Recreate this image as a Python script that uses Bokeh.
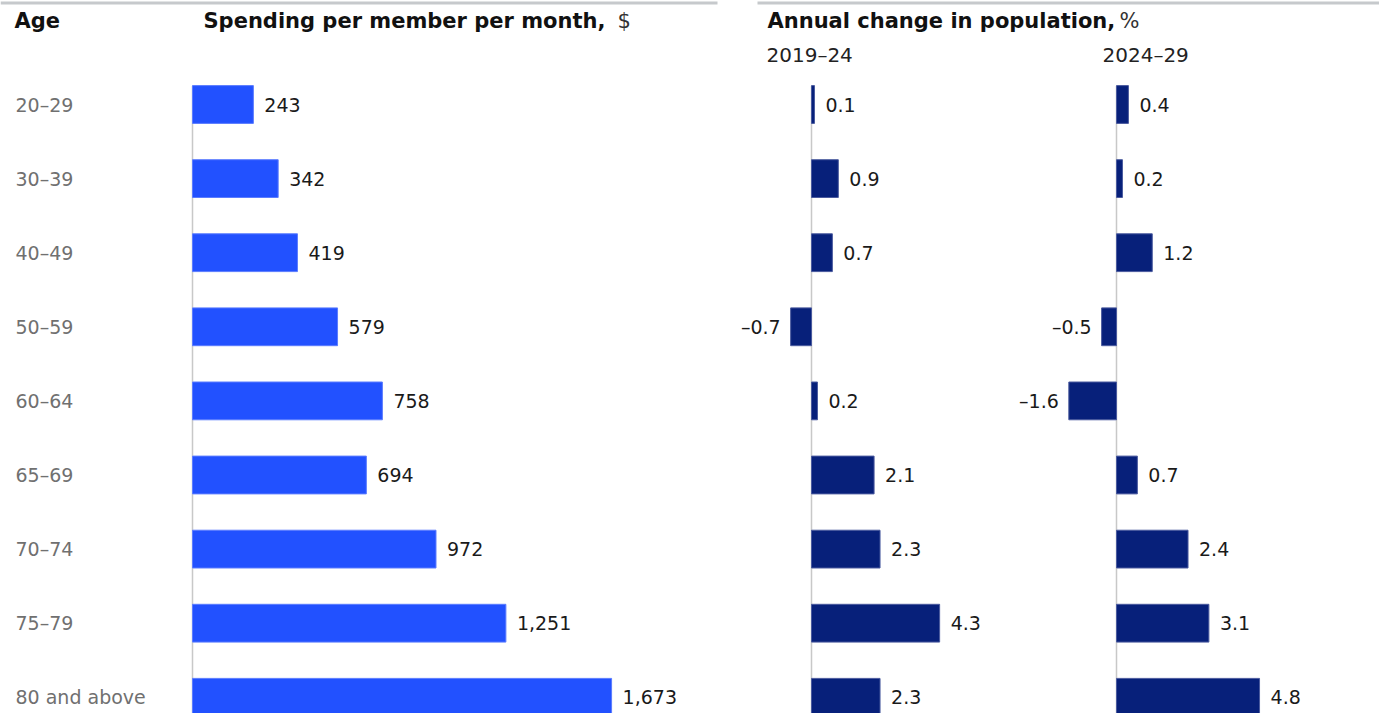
from bokeh.plotting import figure
from bokeh.models import Range1d, ColumnDataSource, Label
from bokeh.embed import file_html
from bokeh.resources import INLINE
from bokeh.core.properties import value

# ---------------- data ----------------
ages = ["20–29", "30–39", "40–49", "50–59", "60–64", "65–69", "70–74", "75–79", "80 and above"]
spending = [243, 342, 419, 579, 758, 694, 972, 1251, 1673]
change_2019_24 = [0.1, 0.9, 0.7, -0.7, 0.2, 2.1, 2.3, 4.3, 2.3]
change_2024_29 = [0.4, 0.2, 1.2, -0.5, -1.6, 0.7, 2.4, 3.1, 4.8]
period_labels = ["2019–24", "2024–29"]

# ---------------- layout ----------------
W, H = 1379, 713
ROW0, STEP = 104.0, 74.1
S_ZERO, S_SCALE = 192.0, 0.2505
P_ZEROS, P_SCALE = [811.0, 1116.0], 29.8
FONT = "DejaVu Sans"


def yv(py):
    return (py - ROW0) / STEP


def xv(px):
    return (px - S_ZERO) / S_SCALE


y_range = Range1d(start=(H - ROW0) / STEP, end=(0 - ROW0) / STEP)
x_range = Range1d(start=(0 - S_ZERO) / S_SCALE, end=(W - S_ZERO) / S_SCALE)

p = figure(width=W, height=H, x_range=x_range, y_range=y_range,
           output_backend="svg", toolbar_location=None,
           x_axis_type=None, y_axis_type=None, min_border=0,
           outline_line_color=None, background_fill_color="white",
           border_fill_color="white")
p.grid.visible = False
# let the figure use the window's bottom/right margin without overflowing
p.styles = {"margin-right": "-8px", "margin-bottom": "-8px"}

p.extra_x_ranges = {
    f"p{k}": Range1d(start=(0 - z) / P_SCALE, end=(W - z) / P_SCALE)
    for k, z in enumerate(P_ZEROS)
}

idx = list(range(len(ages)))

# top rules
p.segment(x0=[xv(0), xv(757)], x1=[xv(717), xv(1390)], y0=yv(2.5), y1=yv(2.5),
          line_color="#c6c9cc", line_width=3)

# zero lines
p.segment(x0=0, x1=0, y0=-0.25, y1=10, line_color="#c8c8c8", line_width=1.5)
for k in range(2):
    p.segment(x0=0, x1=0, y0=-0.25, y1=10, line_color="#c8c8c8", line_width=1.5,
              x_range_name=f"p{k}")

# spending bars
src_s = ColumnDataSource(dict(y=idx, v=spending, lab=[f"{v:,}" for v in spending]))
p.hbar(y="y", left=0, right="v", height=0.51, source=src_s,
       fill_color="#2251FF", line_color="#5b7cff", line_width=1)
p.text(x="v", y="y", text="lab", source=src_s, x_offset=11,
       text_align="left", text_baseline="middle",
       text_font=value(FONT), text_font_size="19px", text_color="#1a1a1a")

# population bars
for k, vals in enumerate([change_2019_24, change_2024_29]):
    src = ColumnDataSource(dict(
        y=idx, v=vals,
        lab=[f"{v:.1f}".replace("-", "–") for v in vals],
        align=["left" if v >= 0 else "right" for v in vals],
        off=[11 if v >= 0 else -10 for v in vals],
    ))
    p.hbar(y="y", left=0, right="v", height=0.51, source=src, x_range_name=f"p{k}",
           fill_color="#07207A", line_color="#4a5a9e", line_width=1)
    p.text(x="v", y="y", text="lab", source=src, x_offset="off", x_range_name=f"p{k}",
           text_align="align", text_baseline="middle",
           text_font=value(FONT), text_font_size="19px", text_color="#1a1a1a")

# category labels
p.text(x=xv(15), y=idx, text=ages, text_align="left", text_baseline="middle",
       text_font=value(FONT), text_font_size="19px", text_color="#707070")


# headers
def label(px, py, txt, bold=False, color="#111111", size="21px"):
    p.add_layout(Label(x=xv(px), y=yv(py), text=txt, text_align="left",
                       text_baseline="middle", text_font=FONT, text_font_size=size,
                       text_font_style="bold" if bold else "normal",
                       text_color=color))


label(14, 20, "Age", bold=True)
label(203, 20, "Spending per member per month,", bold=True)
label(617, 20, "$", color="#333333")
label(767, 20, "Annual change in population,", bold=True)
label(1119, 20, "%", color="#333333")
label(766, 54, period_labels[0], color="#222222", size="20px")
label(1102, 54, period_labels[1], color="#222222", size="20px")

open("out.html", "w").write(file_html(p, INLINE))
